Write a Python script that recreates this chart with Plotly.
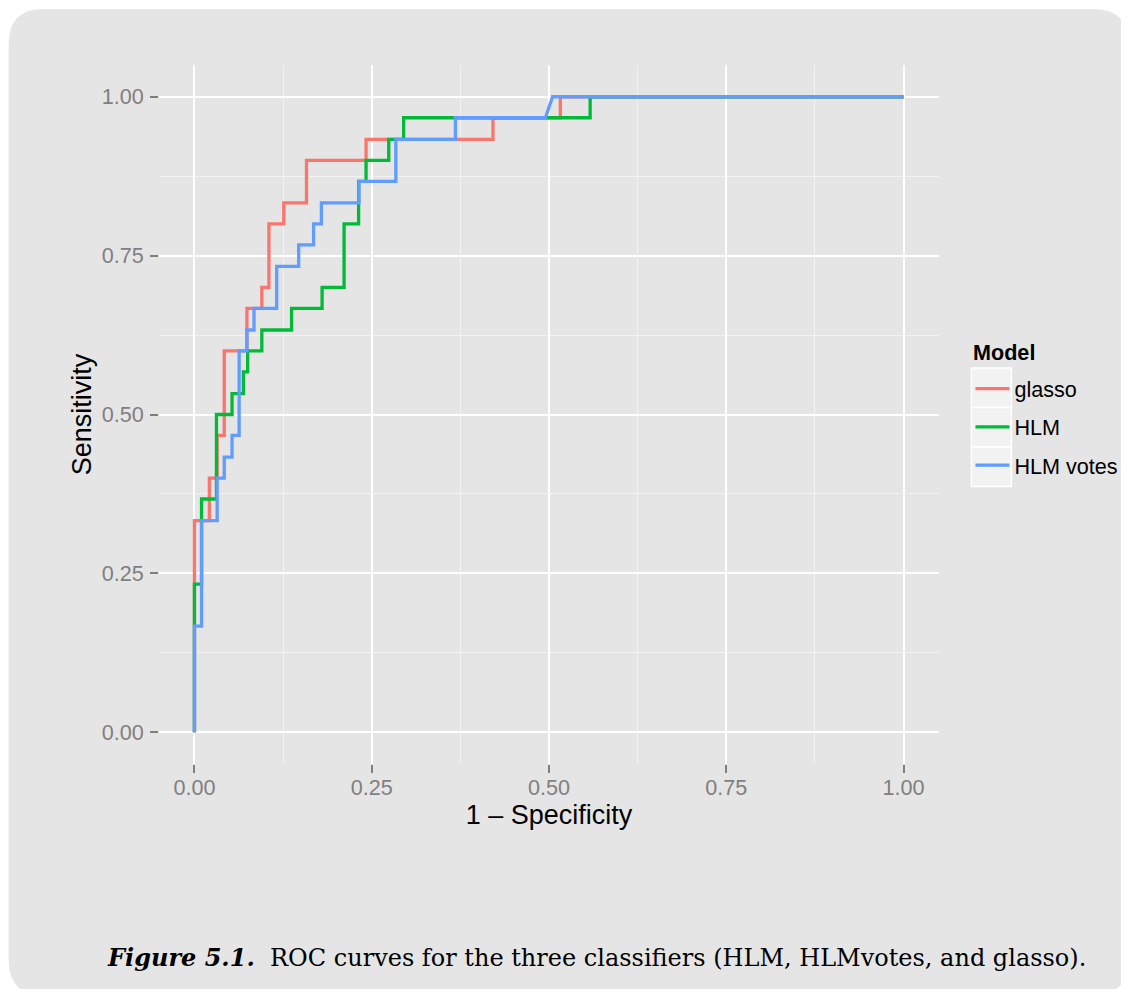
import plotly.graph_objects as go

# ---------------- data (ROC points) ----------------
model_names = ["glasso", "HLM", "HLM votes"]
model_colors = ["#F8766D", "#00BA38", "#619CFF"]

glasso_fpr = [0, 0, 0.021, 0.021, 0.032, 0.032, 0.042, 0.042, 0.074, 0.074, 0.095, 0.095,
              0.105, 0.105, 0.126, 0.126, 0.158, 0.158, 0.242, 0.242, 0.421, 0.421,
              0.516, 0.516, 1]
glasso_tpr = [0, 0.333, 0.333, 0.4, 0.4, 0.467, 0.467, 0.6, 0.6, 0.667, 0.667, 0.7,
              0.7, 0.8, 0.8, 0.833, 0.833, 0.9, 0.9, 0.933, 0.933, 0.967,
              0.967, 1, 1]

hlm_fpr = [0, 0, 0.010, 0.010, 0.031, 0.031, 0.053, 0.053, 0.069, 0.069, 0.075, 0.075,
           0.095, 0.095, 0.137, 0.137, 0.180, 0.180, 0.211, 0.211, 0.2315, 0.2315,
           0.242, 0.242, 0.274, 0.274, 0.295, 0.295, 0.558, 0.558, 1]
hlm_tpr = [0, 0.233, 0.233, 0.367, 0.367, 0.5, 0.5, 0.533, 0.533, 0.567, 0.567, 0.6,
           0.6, 0.633, 0.633, 0.667, 0.667, 0.7, 0.7, 0.8, 0.8, 0.867,
           0.867, 0.9, 0.9, 0.933, 0.933, 0.967, 0.967, 1, 1]

votes_fpr = [0, 0, 0.010, 0.010, 0.032, 0.032, 0.042, 0.042, 0.053, 0.053, 0.063, 0.063,
             0.074, 0.074, 0.084, 0.084, 0.116, 0.116, 0.147, 0.147, 0.168, 0.168,
             0.179, 0.179, 0.232, 0.232, 0.284, 0.284, 0.368, 0.368, 0.495, 0.505, 1]
votes_tpr = [0, 0.167, 0.167, 0.333, 0.333, 0.4, 0.4, 0.433, 0.433, 0.467, 0.467, 0.6,
             0.6, 0.633, 0.633, 0.667, 0.667, 0.733, 0.733, 0.767, 0.767, 0.8,
             0.8, 0.833, 0.833, 0.867, 0.867, 0.933, 0.933, 0.967, 0.967, 1, 1]

tick_vals = [0, 0.25, 0.5, 0.75, 1.0]
tick_text = ["0.00", "0.25", "0.50", "0.75", "1.00"]

x_title = "1 \u2013 Specificity"
y_title = "Sensitivity"
legend_title = "Model"
caption = ("<b><i>Figure 5.1.</i></b>  ROC curves for the three classifiers "
           "(HLM, HLMvotes, and glasso).")

# ---------------- layout geometry (figure pixels; page has an 8px body margin) ----------------
W, H = 1121, 981
L, R, T, B = 150.5, 931.5, 57, 756
PW, PH = R - L, B - T


def px2x(px):
    return (px - L) / PW


def py2y(py):
    return (B - py) / PH


SANS = "Liberation Sans, Arial, sans-serif"
PANEL = "#e5e5e5"

fig = go.Figure()
series = [(glasso_fpr, glasso_tpr), (hlm_fpr, hlm_tpr), (votes_fpr, votes_tpr)]
for name, color, (fx, fy) in zip(model_names, model_colors, series):
    fig.add_trace(go.Scatter(
        x=fx, y=fy, mode="lines", name=name, legendgroup=name,
        line=dict(color=color, width=3.3),
    ))

# rounded grey background box
x0, x1, y0, y1, r = 0, 1121, 1, 987, 35
def P(px, py):
    return f"{px2x(px):.5f},{py2y(py):.5f}"
path = (f"M {P(x0 + r, y0)} L {P(x1 - r, y0)} Q {P(x1, y0)} {P(x1, y0 + r)} "
        f"L {P(x1, y1 - r)} Q {P(x1, y1)} {P(x1 - r, y1)} "
        f"L {P(x0 + r, y1)} Q {P(x0, y1)} {P(x0, y1 - r)} "
        f"L {P(x0, y0 + r)} Q {P(x0, y0)} {P(x0 + r, y0)} Z")
shapes = [dict(type="path", path=path, xref="paper", yref="paper",
               fillcolor=PANEL, line=dict(width=0), layer="below")]

# legend key backgrounds
key_x0, key_x1 = 964, 1004
key_rows = [(360, 399.5), (399.5, 439), (439, 478.5)]
for (ky0, ky1) in key_rows:
    shapes.append(dict(type="rect", xref="paper", yref="paper",
                       x0=px2x(key_x0), x1=px2x(key_x1), y0=py2y(ky1), y1=py2y(ky0),
                       fillcolor="#f2f2f2", line=dict(color="white", width=1.5),
                       layer="below"))

axis_common = dict(
    range=[-0.05, 1.05], tickvals=tick_vals, ticktext=tick_text,
    showgrid=True, gridcolor="white", gridwidth=2.2,
    zeroline=False, showline=False,
    ticks="outside", ticklen=8, tickwidth=2, tickcolor="#7f7f7f",
    tickfont=dict(family=SANS, size=21.6, color="#7f7f7f"),
    minor=dict(dtick=0.125, tick0=0.125, showgrid=True, gridcolor="#f2f2f2",
               gridwidth=1.1),
    fixedrange=True,
)

fig.update_layout(
    width=W, height=H,
    margin=dict(l=L, r=W - R, t=T, b=H - B, autoexpand=False),
    paper_bgcolor="white", plot_bgcolor=PANEL,
    xaxis=dict(**axis_common, ticklabelstandoff=-4,
               title=dict(text=x_title, standoff=4,
                          font=dict(family=SANS, size=27, color="black"))),
    yaxis=dict(**axis_common, ticklabelstandoff=2,
               title=dict(text=y_title, standoff=2,
                          font=dict(family=SANS, size=27, color="black"))),
    shapes=shapes,
    showlegend=True,
    legend=dict(
        x=px2x(963), y=py2y(360), xanchor="left", yanchor="top",
        bgcolor="rgba(0,0,0,0)", borderwidth=0,
        font=dict(family=SANS, size=21.6, color="black"),
        tracegroupgap=7.2, itemwidth=34,
    ),
    annotations=[
        dict(text="<b>" + legend_title + "</b>", xref="paper", yref="paper",
             x=px2x(964), y=py2y(344), xanchor="left", yanchor="middle",
             showarrow=False, font=dict(family=SANS, size=21.6, color="black")),
        dict(text=caption, xref="paper", yref="paper",
             x=px2x(589), y=py2y(949), xanchor="center", yanchor="middle",
             showarrow=False, font=dict(family="DejaVu Serif, Liberation Serif, serif",
                                        size=24, color="black")),
    ],
)

fig.write_html("out.html")
